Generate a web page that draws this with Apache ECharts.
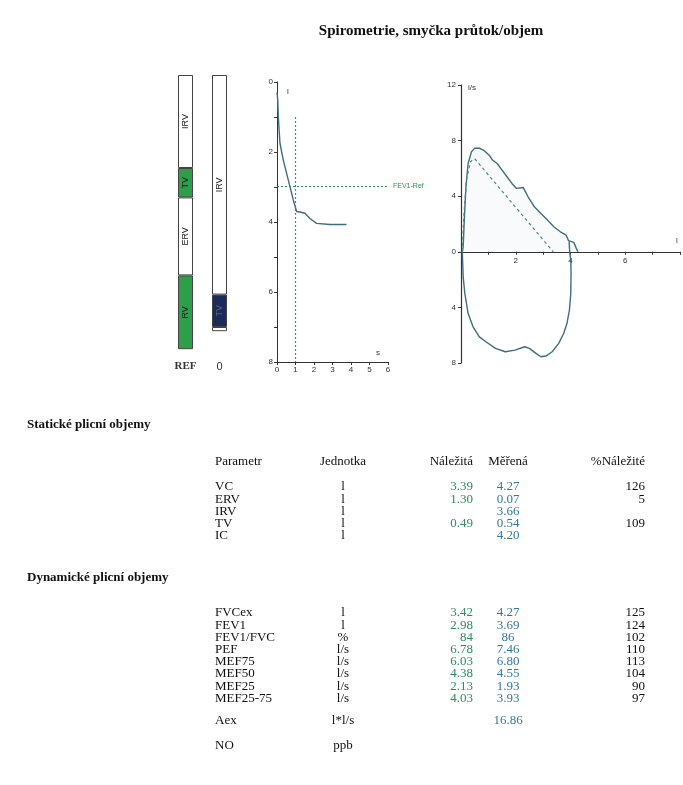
<!DOCTYPE html>
<html>
<head>
<meta charset="utf-8">
<title>Spirometrie</title>
<script src="https://cdn.jsdelivr.net/npm/echarts@6/dist/echarts.min.js"></script>
</head>
<body style="margin:0;background:#fff">
<div id="box" style="width:683px;height:785px;"></div>
<script>
// sloupce objemu (l), shora dolu
var barCats = ['REF', '0']
var segNames = ['IRV', 'TV', 'ERV', 'RV']
var refSegs = [1.55, 0.49, 1.30, 1.23]
var measSegs = [3.66, 0.54, 0.07, 0]

// objem / cas  [s, l]
var volTime = [[0, 0.3], [0.04, 0.5], [0.07, 0.99], [0.16, 1.75], [0.34, 2.23], [0.52, 2.61], [0.7, 2.99],
  [0.88, 3.37], [1.06, 3.7], [1.3, 3.72], [1.51, 3.75], [1.78, 3.9], [2.14, 4.04], [2.86, 4.07], [3.76, 4.07]]
var fev1Ref = 2.98

// prutok / objem  [l, l/s]
var expFlow = [[0.05, 0], [0.08, 0.36], [0.12, 2.28], [0.18, 4.68], [0.26, 6.35], [0.38, 7.19], [0.5, 7.46],
  [0.67, 7.45], [0.85, 7.27], [1.03, 6.95], [1.15, 6.6], [1.32, 6.35], [1.5, 5.88], [1.68, 5.4], [1.86, 4.92],
  [2.03, 4.56], [2.27, 4.63], [2.45, 3.96], [2.68, 3.24], [2.92, 2.76], [3.16, 2.28], [3.39, 1.8], [3.63, 1.44],
  [3.84, 1.2], [3.93, 0.8], [4.0, 0.72], [4.12, 0.68], [4.2, 0.3], [4.27, 0]]
var inspFlow = [[3.95, 0.75], [3.97, 0], [4.01, -0.6], [4.02, -1.56], [4.01, -3.0], [3.96, -4.2], [3.87, -5.16],
  [3.75, -5.88], [3.57, -6.59], [3.33, -7.19], [3.1, -7.5], [2.92, -7.55], [2.74, -7.31], [2.5, -6.95],
  [2.33, -6.83], [1.97, -7.07], [1.62, -7.19], [1.26, -6.95], [0.91, -6.47], [0.67, -6.12], [0.44, -5.4],
  [0.26, -4.44], [0.14, -3.0], [0.08, -1.8], [0.05, -0.12], [0.05, 0]]
var predFlow = [[0.05, 0], [0.1, 2.5], [0.2, 5.2], [0.35, 6.5], [0.5, 6.7], [3.37, 0]]

// tabulka
var headers = ['Parametr', 'Jednotka', 'Náležitá', 'Měřená', '%Náležité']
var statParams = ['VC', 'ERV', 'IRV', 'TV', 'IC']
var statUnits = ['l', 'l', 'l', 'l', 'l']
var statPred = ['3.39', '1.30', '', '0.49', '']
var statMeas = ['4.27', '0.07', '3.66', '0.54', '4.20']
var statPct = ['126', '5', '', '109', '']
var dynParams = ['FVCex', 'FEV1', 'FEV1/FVC', 'PEF', 'MEF75', 'MEF50', 'MEF25', 'MEF25-75']
var dynUnits = ['l', 'l', '%', 'l/s', 'l/s', 'l/s', 'l/s', 'l/s']
var dynPred = ['3.42', '2.98', '84', '6.78', '6.03', '4.38', '2.13', '4.03']
var dynMeas = ['4.27', '3.69', '86', '7.46', '6.80', '4.55', '1.93', '3.93']
var dynPct = ['125', '124', '102', '110', '113', '104', '90', '97']
var extraParams = ['Aex', 'NO']
var extraUnits = ['l*l/s', 'ppb']
var extraMeas = ['16.86', '']

var serif = "'Liberation Serif', 'Times New Roman', serif"
var sans = "'Liberation Sans', Arial, sans-serif"
var lineCol = '#3e6d7e'
var axisCol = '#333'

var mCharts = echarts.init(document.querySelector('#box'))

function txt(s, x, y, align, font, color) {
  return {
    type: 'text', x: x, y: y, silent: true,
    style: { text: s, font: font, fill: color || '#111', textAlign: align, align: align,
      textVerticalAlign: 'middle', verticalAlign: 'middle' }
  }
}

var g = []
g.push(txt('Spirometrie, smyčka průtok/objem', 431, 31, 'center', 'bold 15px ' + serif))
g.push(txt('l', 287, 92, 'left', '8px ' + sans, axisCol))
g.push(txt('s', 376, 353, 'left', '8px ' + sans, axisCol))
g.push(txt('l/s', 468, 88, 'left', '8px ' + sans, axisCol))
g.push(txt('l', 676, 241, 'left', '8px ' + sans, axisCol))

// tabulka
var colX = [215, 343, 473, 508, 645]
var colAlign = ['left', 'center', 'right', 'center', 'right']
var tf = '13px ' + serif
var predCol = '#2f8a62'
var measCol = '#3478a0'
function row(vals, y) {
  var cols = ['#111', '#111', predCol, measCol, '#111']
  for (var i = 0; i < vals.length; i++) {
    if (vals[i] !== '') g.push(txt(vals[i], colX[i], y, colAlign[i], tf, cols[i]))
  }
}
g.push(txt('Statické plicní objemy', 27, 425, 'left', 'bold 13px ' + serif))
for (var i = 0; i < headers.length; i++) g.push(txt(headers[i], colX[i], 462, colAlign[i], tf, '#111'))
for (var i = 0; i < statParams.length; i++) {
  row([statParams[i], statUnits[i], statPred[i], statMeas[i], statPct[i]], 487 + i * 12.2)
}
g.push(txt('Dynamické plicní objemy', 27, 578, 'left', 'bold 13px ' + serif))
for (var i = 0; i < dynParams.length; i++) {
  row([dynParams[i], dynUnits[i], dynPred[i], dynMeas[i], dynPct[i]], 613 + i * 12.2)
}
for (var i = 0; i < extraParams.length; i++) {
  row([extraParams[i], extraUnits[i], '', extraMeas[i], ''], 721 + i * 25)
}

var refColors = ['#fff', '#2e9e4a', '#fff', '#2e9e4a']
var measColors = ['#fff', '#1d2b5c', '#fff', '#fff']

var barSeries = segNames.map(function (name, k) {
  return {
    type: 'bar', name: name, stack: 'vol', xAxisIndex: 0, yAxisIndex: 0, barWidth: 15,
    data: [
      { value: refSegs[k] },
      { value: measSegs[k] || null, label: { color: k === 1 ? '#5a6070' : '#222' } }
    ],
    itemStyle: {
      borderColor: '#444', borderWidth: 1,
      color: function (p) { return p.dataIndex === 0 ? refColors[k] : measColors[k] }
    },
    label: {
      show: true, position: 'inside', rotate: 90, fontSize: 9, fontFamily: sans, color: '#222',
      formatter: function (p) { return p.value >= 0.4 ? p.seriesName : '' }
    },
    silent: true
  }
})

var option = {
  animation: false,
  backgroundColor: '#fff',
  graphic: g,
  grid: [
    { left: 168.5, top: 75, width: 68, height: 282 },
    { left: 277, top: 82, width: 111, height: 280 },
    { left: 461, top: 85, width: 226, height: 278 }
  ],
  xAxis: [
    {
      gridIndex: 0, type: 'category', data: barCats,
      axisLine: { show: false }, axisTick: { show: false },
      axisLabel: {
        margin: 4, interval: 0,
        formatter: function (v) { return v === 'REF' ? '{r|' + v + '}' : '{o|' + v + '}' },
        rich: {
          r: { fontFamily: serif, fontSize: 11, fontWeight: 'bold', color: '#333' },
          o: { fontFamily: sans, fontSize: 11, color: '#333' }
        }
      }
    },
    {
      gridIndex: 1, type: 'value', min: 0, max: 6, interval: 1, position: 'bottom',
      axisLine: { onZero: false, lineStyle: { color: axisCol } },
      axisTick: { length: 3, lineStyle: { color: axisCol } },
      axisLabel: { fontSize: 8, margin: 4, color: axisCol, fontFamily: sans },
      splitLine: { show: false }
    },
    {
      // osa objemu lezi na nulovem prutoku
      gridIndex: 2, type: 'value', min: 0, max: 8, interval: 1, position: 'bottom', offset: -111.2,
      axisLine: { onZero: false, lineStyle: { color: axisCol, width: 1.2 } },
      axisTick: { length: 3, lineStyle: { color: axisCol } },
      axisLabel: {
        fontSize: 8, margin: 5, color: axisCol, fontFamily: sans,
        formatter: function (v) { return (v === 2 || v === 4 || v === 6) ? v : '' }
      },
      splitLine: { show: false }
    }
  ],
  yAxis: [
    { gridIndex: 0, type: 'value', inverse: true, min: 0, max: 4.7, show: false },
    {
      gridIndex: 1, type: 'value', inverse: true, min: 0, max: 8, interval: 1,
      axisLine: { show: true, onZero: false, lineStyle: { color: axisCol } },
      axisTick: { show: true, length: 3, lineStyle: { color: axisCol } },
      axisLabel: {
        fontSize: 8, margin: 4, color: axisCol, fontFamily: sans,
        formatter: function (v) { return v % 2 === 0 ? v : '' }
      },
      splitLine: { show: false }
    },
    {
      gridIndex: 2, type: 'value', min: -8, max: 12, interval: 4,
      axisLine: { show: true, onZero: false, lineStyle: { color: axisCol, width: 1.2 } },
      axisTick: { show: true, length: 3, lineStyle: { color: axisCol } },
      axisLabel: {
        fontSize: 8, margin: 5, color: axisCol, fontFamily: sans,
        formatter: function (v) { return Math.abs(v) }
      },
      splitLine: { show: false }
    }
  ],
  series: barSeries.concat([
    {
      type: 'line', name: 'objem', xAxisIndex: 1, yAxisIndex: 1, data: volTime,
      showSymbol: false, silent: true, lineStyle: { color: lineCol, width: 1.4 },
      markLine: {
        symbol: 'none', silent: true, animation: false,
        data: [
          {
            yAxis: fev1Ref, lineStyle: { color: '#2f8f5a', type: [2, 2], width: 1.2 },
            label: { show: true, position: 'end', formatter: 'FEV1-Ref', fontSize: 7, color: '#2f8f5a', fontFamily: sans }
          },
          [
            { coord: [1, 1], lineStyle: { color: '#3a8aa0', type: [2, 2], width: 1.2 }, label: { show: false } },
            { coord: [1, 8] }
          ]
        ]
      }
    },
    {
      type: 'line', name: 'exp', xAxisIndex: 2, yAxisIndex: 2, data: expFlow,
      showSymbol: false, silent: true, lineStyle: { color: lineCol, width: 1.4 },
      areaStyle: { color: 'rgba(120,170,200,0.08)' }
    },
    {
      type: 'line', name: 'insp', xAxisIndex: 2, yAxisIndex: 2, data: inspFlow,
      showSymbol: false, silent: true, lineStyle: { color: lineCol, width: 1.4 }
    },
    {
      type: 'line', name: 'pred', xAxisIndex: 2, yAxisIndex: 2, data: predFlow,
      showSymbol: false, silent: true, lineStyle: { color: '#4a8a78', width: 1.2, type: [3, 3] }
    }
  ])
}
mCharts.setOption(option)
</script>
</body>
</html>
